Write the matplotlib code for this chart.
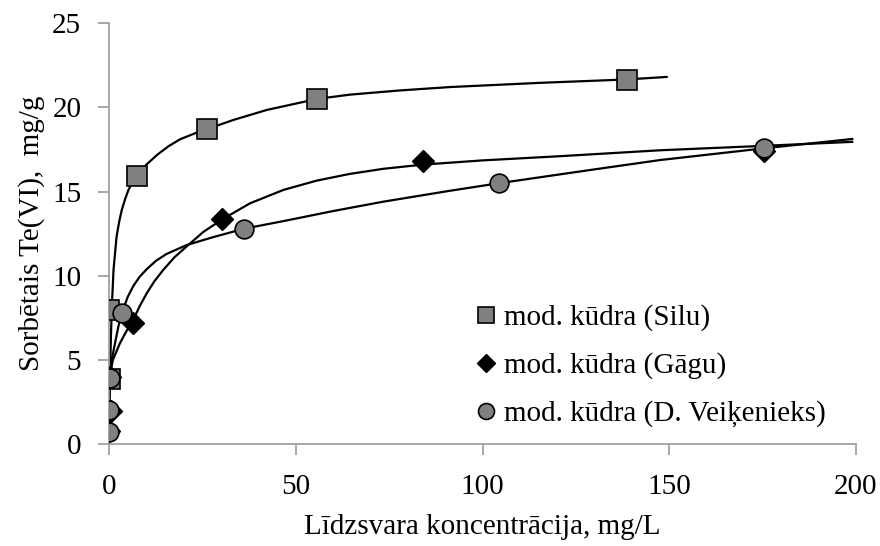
import numpy as np
import matplotlib
matplotlib.use("Agg")
from matplotlib import pyplot as plt

plt.rcParams['font.family'] = ['Liberation Serif', 'DejaVu Serif']

# measured points
silu_x = [0.3, 0.1, 7.5, 26.2, 55.8, 138.6]
silu_y = [3.9, 8.0, 15.9, 18.7, 20.5, 21.6]

gagu_x = [0.0, 0.6, 0.3, 6.5, 30.3, 84.0, 175.5]
gagu_y = [0.8, 2.0, 4.0, 7.2, 13.4, 16.8, 17.4]

veik_x = [0.1, 0.0, 0.3, 3.6, 36.2, 104.5, 175.5]
veik_y = [0.75, 2.05, 3.95, 7.8, 12.8, 15.5, 17.6]

# fitted isotherm curves
silu_fx = [0.0, 0.27, 0.5, 0.8, 1.2, 2.0, 2.7, 3.4, 4.3, 5.2, 6.3, 7.5, 10.0, 13.0,
           16.0, 19.0, 23.5, 26.2, 33.3, 42.2, 55.8, 64.5, 77.9, 91.3, 115.4, 138.6, 149.3]
silu_fy = [2.0, 4.0, 6.4, 8.4, 10.35, 12.3, 13.2, 13.9, 14.55, 15.1, 15.55, 15.9, 16.6, 17.2,
           17.7, 18.1, 18.5, 18.7, 19.25, 19.84, 20.5, 20.75, 21.0, 21.2, 21.45, 21.65, 21.8]

gagu_fx = [0.0, 0.27, 1.0, 2.9, 4.6, 6.5, 8.2, 10.1, 12.2, 14.5, 17.5, 20.8, 25.2, 30.3,
           37.7, 46.7, 55.6, 64.5, 73.4, 84.0, 100.0, 120.8, 147.5, 176.0, 199.0]
gagu_fy = [2.0, 4.1, 5.0, 6.0, 6.7, 7.4, 8.2, 8.97, 9.7, 10.35, 11.1, 11.75, 12.6, 13.35,
           14.3, 15.1, 15.65, 16.05, 16.35, 16.6, 16.85, 17.1, 17.45, 17.72, 17.95]

veik_fx = [0.0, 0.27, 0.7, 1.6, 2.5, 3.6, 5.0, 6.5, 8.2, 10.1, 12.6, 15.4, 20.8, 27.9,
           36.2, 46.7, 60.1, 73.4, 91.3, 104.5, 128.8, 147.5, 175.5, 199.0]
veik_fy = [2.0, 4.1, 5.0, 6.0, 7.0, 7.9, 8.75, 9.4, 9.95, 10.4, 10.9, 11.3, 11.83, 12.3,
           12.8, 13.25, 13.85, 14.4, 15.05, 15.5, 16.28, 16.87, 17.57, 18.12]

fig = plt.figure(figsize=(8.8, 5.46), dpi=100)
ax = fig.add_axes([0.1239, 0.1859, 0.8488, 0.772])

ax.plot(silu_fx, silu_fy, color='black', lw=1.6, zorder=2)
ax.plot(gagu_fx, gagu_fy, color='black', lw=1.6, zorder=2)
ax.plot(veik_fx, veik_fy, color='black', lw=1.6, zorder=2)

ax.plot(silu_x, silu_y, ls='none', marker='s', ms=14, mfc='#808080', mec='black',
        mew=1.2, zorder=3, label='mod. kūdra (Silu)')
ax.plot(gagu_x, gagu_y, ls='none', marker='D', ms=11, mfc='black', mec='black',
        mew=1.0, zorder=4, label='mod. kūdra (Gāgu)')
ax.plot(veik_x, veik_y, ls='none', marker='o', ms=13.5, mfc='#808080', mec='black',
        mew=1.2, zorder=5, label='mod. kūdra (D. Veiķenieks)')

ax.set_xlim(0, 200)
ax.set_ylim(0, 25)
ax.set_xticks([0, 50, 100, 150, 200])
ax.set_yticks([0, 5, 10, 15, 20, 25])
ax.set_xlabel('Līdzsvara koncentrācija, mg/L', fontsize=21, labelpad=10)
ax.set_ylabel('Sorbētais Te(VI),  mg/g', fontsize=21, labelpad=5)

for s in ['top', 'right']:
    ax.spines[s].set_visible(False)
for s in ['left', 'bottom']:
    ax.spines[s].set_color('#999999')
    ax.spines[s].set_linewidth(1.2)
ax.tick_params(axis='both', direction='out', length=8, width=1.2, color='#999999',
               labelsize=21)
ax.tick_params(axis='x', pad=13)
ax.tick_params(axis='y', pad=12)

ax.legend(loc='upper left', bbox_to_anchor=(0.474, 0.36), frameon=False, fontsize=21,
          handlelength=0.8, handletextpad=0.2, labelspacing=0.72, markerscale=0.85,
          borderaxespad=0)

fig.savefig('out.png', dpi=100)
